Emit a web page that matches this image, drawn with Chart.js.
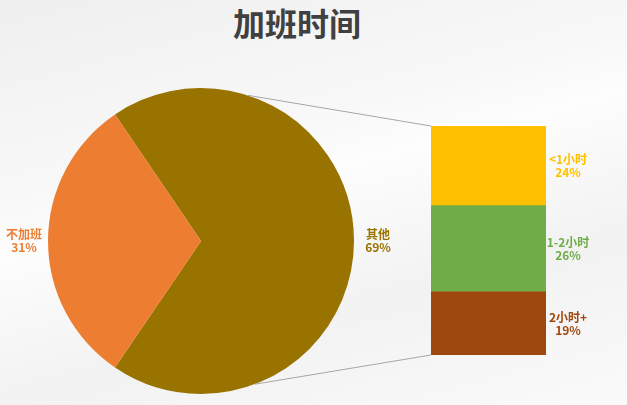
<!DOCTYPE html>
<html>
<head>
<meta charset="utf-8">
<script src="https://cdn.jsdelivr.net/npm/chart.js@4"></script>
<style>
  html, body { margin: 0; padding: 0; }
  body {
    width: 627px; height: 405px; overflow: hidden; position: relative;
    background: linear-gradient(165deg, #efefef 0%, #f8f8f8 35%, #fdfdfd 45%, #f2f2f2 70%, #fafafa 100%);
    font-family: "Noto Sans CJK SC", "Noto Sans", sans-serif;
  }
  #title {
    position: absolute; left: 0; top: 2px; width: 594px; text-align: center;
    font-size: 32px; line-height: 40px; font-weight: bold; color: #404040;
  }
  #pie { position: absolute; left: 0; top: 0; }
  #bar { position: absolute; left: 431px; top: 126px; }
</style>
</head>
<body>
<div id="title">加班时间</div>
<canvas id="pie" width="627" height="405"></canvas>
<canvas id="bar" width="196" height="229"></canvas>
<script>
const pieLabels = ['其他', '不加班']
const pieValues = [69, 31]
const pieColors = ['#997300', '#ED7D31']

const barLabels = ['<1小时', '1-2小时', '2小时+']
const barValues = [24, 26, 19]
const barColors = ['#FFC000', '#70AD47', '#9E480E']

const labelFont = 'bold 12px "Noto Sans CJK SC", sans-serif'

function drawTwoLines(ctx, x, y, a, b, color) {
    ctx.save()
    ctx.font = labelFont
    ctx.fillStyle = color
    ctx.textAlign = 'center'
    ctx.textBaseline = 'middle'
    ctx.fillText(a, x, y - 6.5)
    ctx.fillText(b, x, y + 6.5)
    ctx.restore()
}

// stacked bar: first dataset sits at the bottom, so go through the lists backwards
const barDatasets = barLabels.map((label, i) => ({
    label: label,
    data: [barValues[i]],
    backgroundColor: barColors[i],
    borderWidth: 0,
    barPercentage: 1,
    categoryPercentage: 1
})).reverse()

const barChart = new Chart(document.getElementById('bar'), {
    type: 'bar',
    data: { labels: ['其他'], datasets: barDatasets },
    options: {
        responsive: false,
        animation: false,
        events: [],
        layout: { padding: { left: 0, top: 0, bottom: 0, right: 81 } },
        plugins: { legend: { display: false }, tooltip: { enabled: false } },
        scales: {
            x: { stacked: true, display: false },
            y: { stacked: true, display: false, min: 0, max: 69 }
        }
    },
    plugins: [{
        id: 'barLabels',
        afterDatasetsDraw(chart) {
            const ctx = chart.ctx
            chart.data.datasets.forEach((ds, i) => {
                const bar = chart.getDatasetMeta(i).data[0]
                const y = (bar.y + bar.base) / 2
                drawTwoLines(ctx, bar.x + bar.width / 2 + 22, y, ds.label, ds.data[0] + '%', ds.backgroundColor)
            })
        }
    }]
})

new Chart(document.getElementById('pie'), {
    type: 'pie',
    data: {
        labels: pieLabels,
        datasets: [{ data: pieValues, backgroundColor: pieColors, borderWidth: 0 }]
    },
    options: {
        responsive: false,
        animation: false,
        events: [],
        rotation: -34.2,
        layout: { padding: { left: 48, top: 88, right: 273, bottom: 11 } },
        plugins: { legend: { display: false }, tooltip: { enabled: false } }
    },
    plugins: [{
        id: 'pieExtras',
        afterDatasetsDraw(chart) {
            const ctx = chart.ctx
            const arcs = chart.getDatasetMeta(0).data
            arcs.forEach((arc, i) => {
                const mid = (arc.startAngle + arc.endAngle) / 2
                const r = arc.outerRadius + 24
                drawTwoLines(ctx, arc.x + Math.cos(mid) * r, arc.y + Math.sin(mid) * r,
                    pieLabels[i], pieValues[i] + '%', pieColors[i])
            })

            // connector lines from the pie to the corners of the bar
            const arc = arcs[0]
            const canvas = barChart.canvas
            const metaTop = barChart.getDatasetMeta(barChart.data.datasets.length - 1).data[0]
            const metaBottom = barChart.getDatasetMeta(0).data[0]
            const left = canvas.offsetLeft + metaTop.x - metaTop.width / 2
            const top = canvas.offsetTop + metaTop.y
            const bottom = canvas.offsetTop + metaBottom.base
            const a1 = -72.2 * Math.PI / 180
            const a2 = 69.4 * Math.PI / 180
            ctx.save()
            ctx.strokeStyle = '#a6a6a6'
            ctx.lineWidth = 1
            ctx.beginPath()
            ctx.moveTo(arc.x + Math.cos(a1) * arc.outerRadius, arc.y + Math.sin(a1) * arc.outerRadius)
            ctx.lineTo(left, top)
            ctx.moveTo(arc.x + Math.cos(a2) * arc.outerRadius, arc.y + Math.sin(a2) * arc.outerRadius)
            ctx.lineTo(left, bottom)
            ctx.stroke()
            ctx.restore()
        }
    }]
})
</script>
</body>
</html>
